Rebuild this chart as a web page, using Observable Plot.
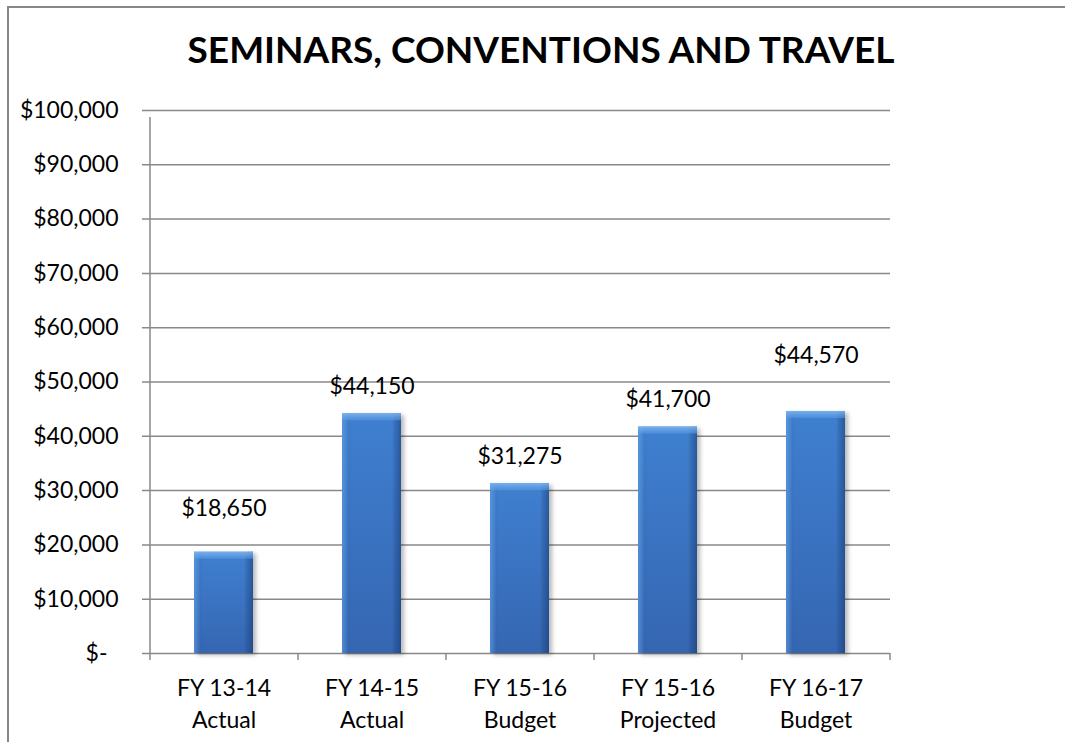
<!DOCTYPE html>
<html><head><meta charset="utf-8">
<script src="https://cdn.jsdelivr.net/npm/d3@7"></script>
<script src="https://cdn.jsdelivr.net/npm/@observablehq/plot@0.6"></script>
<style>
html,body{margin:0;padding:0;background:#fff;overflow:hidden}
#wrap{position:relative;width:1065px;height:742px;overflow:hidden;font-family:Lato,"Open Sans",sans-serif}
#frame{position:absolute;left:7px;top:6px;width:1200px;height:900px;border-left:2px solid #878787;border-top:2px solid #878787}
#title{position:absolute;left:0;top:29px;width:1082px;text-align:center;font-weight:bold;font-size:37px;line-height:40px;color:#000;white-space:nowrap}
#chart{position:absolute;left:0;top:80px}
</style></head><body>
<div id="wrap"><div id="frame"></div><div id="title"></div><div id="chart"></div></div>
<script>
// ---- data ----
const chartTitle = "SEMINARS, CONVENTIONS AND TRAVEL";
const periods = ["FY 13-14", "FY 14-15", "FY 15-16", "FY 15-16", "FY 16-17"];
const kinds = ["Actual", "Actual", "Budget", "Projected", "Budget"];
const amounts = [18650, 44150, 31275, 41700, 44570];
const yTicks = [0, 10000, 20000, 30000, 40000, 50000, 60000, 70000, 80000, 90000, 100000];

// ---- build ----
document.getElementById("title").textContent = chartTitle;
const rows = periods.map((p, i) => ({key: p + " " + kinds[i], period: p, kind: kinds[i], value: amounts[i], i}));
const keys = rows.map(d => d.key);
const money = d3.format("$,");
const W = 1065, H = 662, mL = 150, mR = 175, mT = 30, mB = 89;
const step = (W - mL - mR) / keys.length;
const grid = "#898989";
const font = 23;

const plot = Plot.plot({
  width: W, height: H,
  marginLeft: mL, marginRight: mR, marginTop: mT, marginBottom: mB,
  style: {fontFamily: "Lato, 'Open Sans', sans-serif", fontSize: font + "px", color: "#000", background: "transparent", overflow: "visible"},
  x: {domain: keys, paddingInner: 0.6, paddingOuter: 0.3, axis: null},
  y: {domain: [0, 100000], axis: null},
  marks: [
    // gridlines incl. baseline, extending left as ticks
    Plot.ruleY(yTicks, {stroke: grid, strokeWidth: 1.5, insetLeft: -8}),
    // y-axis line
    Plot.ruleX([keys[0]], {y1: () => 0, y2: () => 100000, dx: -step / 2, stroke: grid, strokeWidth: 1.5, insetBottom: -7}),
    // category boundary ticks
    Plot.ruleX(keys, {y1: () => 0, y2: () => 0, dx: -step / 2, stroke: grid, strokeWidth: 1.5, insetBottom: -7}),
    Plot.ruleX([keys[keys.length - 1]], {y1: () => 0, y2: () => 0, dx: step / 2, stroke: grid, strokeWidth: 1.5, insetBottom: -7}),
    // bars
    Plot.barY(rows, {x: "key", y: "value", fill: "url(#barV)", className: "mainbar"}),
    Plot.barY(rows, {x: "key", y: "value", fill: "url(#barH)"}),
    Plot.barY(rows, {x: "key", y1: "value", y2: "value", insetBottom: -7, fill: "url(#bevel)"}),
    // value labels
    Plot.text(rows.filter(d => d.i >= 1 && d.i <= 3), {x: "key", y: "value", text: d => money(d.value), dy: -27, lineAnchor: "middle", fill: "#000"}),
    Plot.text(rows.filter(d => d.i === 0), {x: "key", y: "value", text: d => money(d.value), dy: -44, lineAnchor: "middle", fill: "#000"}),
    Plot.text(rows.filter(d => d.i === 4), {x: "key", y: "value", text: d => money(d.value), dy: -56, lineAnchor: "middle", fill: "#000"}),
    // y tick labels
    Plot.text(yTicks.filter(v => v > 0), {y: d => d, text: d => money(d), frameAnchor: "left", textAnchor: "end", dx: -32, lineAnchor: "middle", fill: "#000"}),
    Plot.text(yTicks.filter(v => v === 0), {y: d => d, text: () => "$-", frameAnchor: "left", textAnchor: "end", dx: -43, lineAnchor: "middle", fill: "#000"}),
    // x tick labels (two lines)
    Plot.text(rows, {x: "key", y: () => 0, text: "period", dy: 35, lineAnchor: "middle", fill: "#000"}),
    Plot.text(rows, {x: "key", y: () => 0, text: "kind", dy: 67, lineAnchor: "middle", fill: "#000"})
  ]
});

const ns = "http://www.w3.org/2000/svg";
const defs = document.createElementNS(ns, "defs");
defs.innerHTML = `
<linearGradient id="barV" x1="0" y1="0" x2="0" y2="1">
  <stop offset="0" stop-color="#3f80d0"/>
  <stop offset="1" stop-color="#3566b2"/>
</linearGradient>
<linearGradient id="barH" x1="0" y1="0" x2="1" y2="0">
  <stop offset="0" stop-color="#6aa6ea" stop-opacity="0.55"/>
  <stop offset="0.08" stop-color="#6aa6ea" stop-opacity="0.15"/>
  <stop offset="0.15" stop-color="#000" stop-opacity="0"/>
  <stop offset="0.85" stop-color="#000" stop-opacity="0"/>
  <stop offset="0.93" stop-color="#0a2a5a" stop-opacity="0.25"/>
  <stop offset="1" stop-color="#0a2a5a" stop-opacity="0.45"/>
</linearGradient>
<linearGradient id="bevel" x1="0" y1="0" x2="0" y2="1">
  <stop offset="0" stop-color="#7fb6f0" stop-opacity="0.9"/>
  <stop offset="1" stop-color="#5c9be2" stop-opacity="0.5"/>
</linearGradient>`;
plot.insertBefore(defs, plot.firstChild);
const mb = plot.querySelector(".mainbar") || plot.querySelectorAll("g[aria-label='bar']")[0];
if (mb) mb.setAttribute("style", "filter: drop-shadow(3px 2px 2px rgba(0,0,0,0.28))");
document.getElementById("chart").appendChild(plot);
</script>
</body></html>
